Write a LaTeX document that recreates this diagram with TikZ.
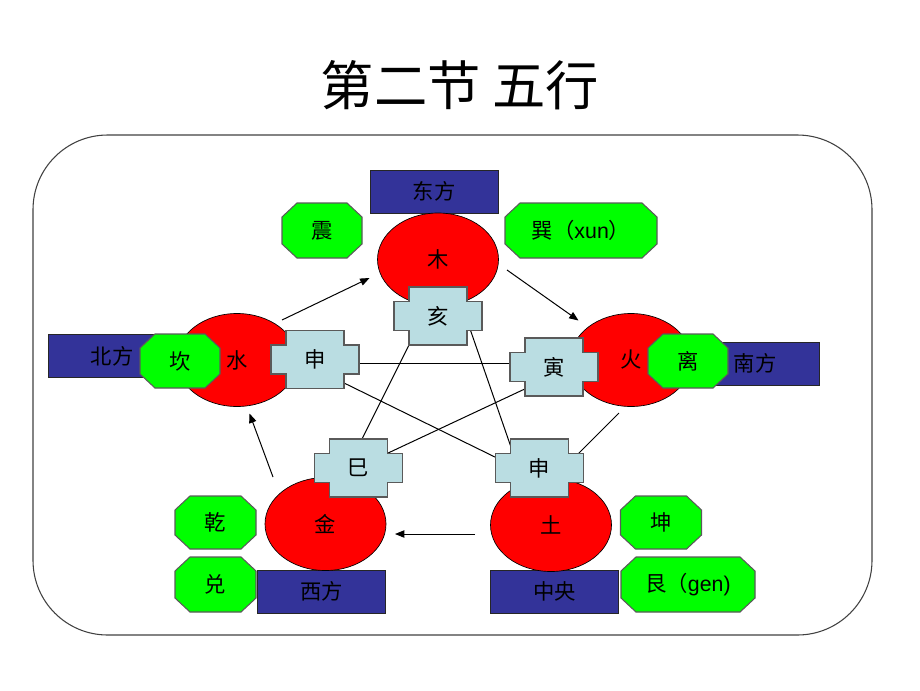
\documentclass[tikz,border=0pt]{standalone}
\usepackage{fontspec}
\setmainfont{Liberation Sans}
\newfontfamily\cjk{Noto Sans CJK SC}
\usetikzlibrary{shapes.geometric,arrows.meta}
\definecolor{fblue}{HTML}{333399}
\definecolor{fgreen}{HTML}{00FF00}
\definecolor{fred}{HTML}{FF0000}
\definecolor{fcross}{HTML}{BADDE2}
\definecolor{fedge}{HTML}{5A5A5A}
\tikzset{
  lbl/.style={font=\cjk\fontsize{16}{19}\selectfont, inner sep=0pt},
  dirbox/.style={draw=black!85, fill=fblue, line width=0.6pt, minimum width=96pt, minimum height=32.25pt, inner sep=0pt, font=\cjk\fontsize{16}{19}\selectfont},
  elem/.style={ellipse, draw=black, fill=fred, line width=0.5pt, minimum width=90.75pt, minimum height=69.75pt, inner sep=0pt, font=\cjk\fontsize{16}{19}\selectfont},
  crossshape/.style={draw=fedge, fill=fcross, line width=0.8pt},
  octshape/.style={draw=fedge, fill=fgreen, line width=0.8pt},
  link/.style={draw=black, line width=0.75pt},
  arr/.style={draw=black, line width=0.75pt, -{Triangle[length=7pt,width=5.5pt]}}
}
% cross: name, x, y, text
\newcommand{\crossat}[4]{%
  \filldraw[crossshape] ({#2-29},{#3-29}) -- ({#2+29},{#3-29}) -- ({#2+29},{#3-14.5}) -- ({#2+44},{#3-14.5}) -- ({#2+44},{#3+14.5}) -- ({#2+29},{#3+14.5}) -- ({#2+29},{#3+29}) -- ({#2-29},{#3+29}) -- ({#2-29},{#3+14.5}) -- ({#2-44},{#3+14.5}) -- ({#2-44},{#3-14.5}) -- ({#2-29},{#3-14.5}) -- cycle;
  \node[lbl] (#1) at (#2,#3) {#4};}
% octagon: name, x, y, half width, half height, text
\newcommand{\octat}[6]{%
  \filldraw[octshape] ({#2-#4+15},{#3-#5}) -- ({#2+#4-15},{#3-#5}) -- ({#2+#4},{#3-#5+14}) -- ({#2+#4},{#3+#5-14}) -- ({#2+#4-15},{#3+#5}) -- ({#2-#4+15},{#3+#5}) -- ({#2-#4},{#3+#5-14}) -- ({#2-#4},{#3-#5+14}) -- cycle;
  \node[lbl] (#1) at (#2,#3) {#6};}
\begin{document}
\begin{tikzpicture}[x=0.75pt,y=-0.75pt]
\useasboundingbox (0,0) rectangle (920,690);
% frame
\draw[draw=black!75, line width=0.8pt, rounded corners=56pt] (33,135) rectangle (872,635);
% title
\node[font=\cjk\fontsize{40}{46}\selectfont, inner sep=0pt] (title) at (460,85) {第二节 五行};
% direction boxes
\node[dirbox] (east) at (434,191.5) {东方};
\node[dirbox] (north) at (112,356) {北方};
\node[dirbox] (south) at (755,363.5) {南方};
\node[dirbox] (west) at (321.5,591.5) {西方};
\node[dirbox] (centre) at (554.5,591.5) {中央};
% elements
\node[elem] (wood) at (438,259.5) {木};
\node[elem] (water) at (237,360) {水};
\node[elem] (fire) at (631,360) {火};
\node[elem] (metal) at (325.5,524) {金};
\node[elem] (earth) at (551,525) {土};
% star lines
\coordinate (l1a) at (411,341); \coordinate (l1b) at (360,443);
\coordinate (l2a) at (469,326); \coordinate (l2b) at (512,450);
\coordinate (l3a) at (355,363); \coordinate (l3b) at (515,363);
\coordinate (l4a) at (340,381); \coordinate (l4b) at (500,459.5);
\coordinate (l5a) at (529,387); \coordinate (l5b) at (386,454);
\coordinate (l6a) at (619,413); \coordinate (l6b) at (575,457);
\draw[link] (l1a) -- (l1b);
\draw[link] (l2a) -- (l2b);
\draw[link] (l3a) -- (l3b);
\draw[link] (l4a) -- (l4b);
\draw[link] (l5a) -- (l5b);
\draw[link] (l6a) -- (l6b);
% arrows
\coordinate (a1a) at (282,320); \coordinate (a1b) at (369.5,278);
\coordinate (a2a) at (507,270); \coordinate (a2b) at (578.5,320.5);
\coordinate (a3a) at (475,534); \coordinate (a3b) at (395,534);
\coordinate (a4a) at (273,477); \coordinate (a4b) at (249.5,413.5);
\draw[arr] (a1a) -- (a1b);
\draw[arr] (a2a) -- (a2b);
\draw[arr] (a3a) -- (a3b);
\draw[arr] (a4a) -- (a4b);
% crosses
\crossat{hai}{438}{316}{亥}
\crossat{shenA}{315}{359.5}{申}
\crossat{yin}{554}{367}{寅}
\crossat{si}{358.5}{468}{巳}
\crossat{shenB}{539.5}{468}{申}
% trigrams
\octat{zhen}{322}{230.5}{40}{27.5}{震}
\octat{xun}{581}{230.5}{76}{27.5}{巽（{\normalfont xun}）}
\octat{kan}{180}{361}{40}{27}{坎}
\octat{li}{688}{361}{40}{27}{离}
\octat{qian}{215.5}{522.5}{40.5}{26.5}{乾}
\octat{dui}{215.5}{584.5}{40.5}{27.5}{兑}
\octat{kun}{661}{522.5}{40.5}{26.5}{坤}
\octat{gen}{688}{584.5}{67}{27.5}{艮（{\normalfont gen)}}
\end{tikzpicture}
\end{document}
